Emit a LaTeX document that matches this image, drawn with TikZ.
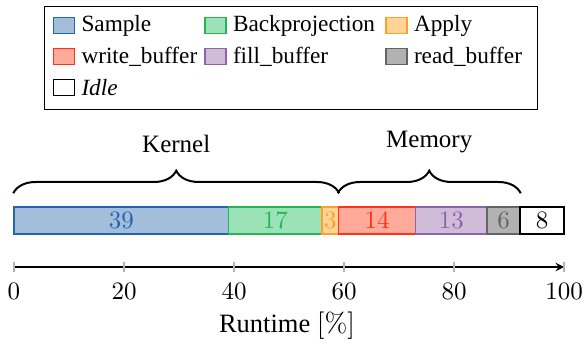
\documentclass[tikz,border=0pt]{standalone}
\usepackage[no-math]{fontspec}
\setmainfont{Liberation Serif}
\usepackage{tikz}
\usetikzlibrary{positioning,decorations.pathreplacing,calc}
\definecolor{csample}{RGB}{35,100,175}
\definecolor{csampleL}{RGB}{162,190,218}
\definecolor{cbackproj}{RGB}{40,180,80}
\definecolor{cbackprojL}{RGB}{155,226,185}
\definecolor{capply}{RGB}{255,160,40}
\definecolor{capplyL}{RGB}{255,212,150}
\definecolor{cwrite}{RGB}{255,50,20}
\definecolor{cwriteL}{RGB}{255,170,155}
\definecolor{cfillbuf}{RGB}{140,100,168}
\definecolor{cfillbufL}{RGB}{208,188,216}
\definecolor{cread}{RGB}{100,100,100}
\definecolor{creadL}{RGB}{178,178,178}
\definecolor{cidle}{RGB}{0,0,0}
\definecolor{cidleL}{RGB}{255,255,255}

\begin{document}
\begin{tikzpicture}[x=0.4pt, y=-0.4pt,
        swatch/.style={draw=#1, fill=#1L, minimum width=8.4pt, minimum height=6.4pt, inner sep=0pt, line width=0.6pt},
        seg/.style={draw=#1, fill=#1L, text=#1, minimum height=10.8pt, inner sep=0pt, line width=0.6pt},
        brace/.style={decorate, decoration={brace, amplitude=9pt, raise=5.2pt}, line width=0.8pt}]
        \useasboundingbox (0,0) rectangle (586,345);

        % Legend
        \draw (44,7) rectangle (537,110);
        \foreach \c/\lab/\x/\y in {csample/Sample/52.5/25.5, cbackproj/Backprojection/204/25.5, capply/Apply/385/25.5,
                                   cwrite/write\_buffer/52.5/56.5, cfillbuf/fill\_buffer/204/56.5, cread/read\_buffer/385/56.5,
                                   cidle/\textit{Idle}/52.5/87.5} {
            \node[swatch=\c, anchor=west] (lg-\c) at (\x,\y) {};
            \node[right=2.4pt of lg-\c, inner sep=0pt, font=\fontsize{9.3}{11}\selectfont] (lt-\c) {\lab};
        }

        % Stacked bar
        \foreach \n/\s/\w/\c in {sample/0/39/csample, backproj/39/17/cbackproj, apply/56/3/capply,
                                 write/59/14/cwrite, fillbuf/73/13/cfillbuf, read/86/6/cread, idle/92/8/cidle} {
            \node[seg=\c, minimum width=\w*2.2pt] (seg-\n) at ({14+5.5*(\s+\w/2)},220.5) {$\w$};
        }

        % Braces
        \draw[brace] (seg-sample.north west) -- (seg-apply.north east);
        \draw[brace] (seg-write.north west) -- (seg-read.north east);
        \coordinate (kb) at ($(seg-sample.north west)!0.5!(seg-apply.north east)$);
        \coordinate (mb) at ($(seg-write.north west)!0.5!(seg-read.north east)$);
        \node[above=18pt of kb] (kernel) {Kernel};
        \node[above=18pt of mb] (memory) {Memory};

        % Axis
        \coordinate (ax0) at (14,267);
        \coordinate (ax100) at (564,267);
        \draw[-stealth, line width=0.5pt] (ax0) -- (ax100);
        \foreach \t in {0,20,...,100} {
            \draw[gray!60, line width=0.6pt] ({14+5.5*\t},262) -- ({14+5.5*\t},272);
            \node (tick-\t) at ({14+5.5*\t},291) {$\t$};
        }
        \node[font=\fontsize{10.6}{12}\selectfont] (xlabel) at (287,326) {Runtime $[\%]$};
\end{tikzpicture}
\end{document}
